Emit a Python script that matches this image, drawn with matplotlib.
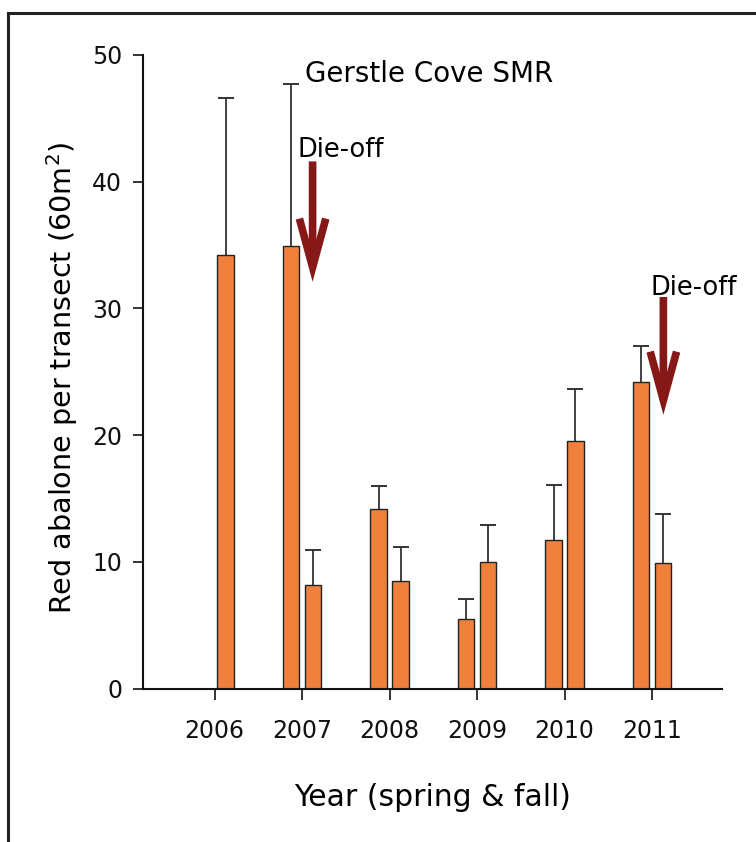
import numpy as np
import matplotlib
matplotlib.use("Agg")
import matplotlib.pyplot as plt
from matplotlib.lines import Line2D

years = ["2006", "2007", "2008", "2009", "2010", "2011"]
spring = [np.nan, 34.9, 14.15, 5.5, 11.7, 24.2]
spring_err_top = [np.nan, 47.7, 16.0, 7.1, 16.1, 27.05]
fall = [34.2, 8.2, 8.5, 10.0, 19.5, 9.9]
fall_err_top = [46.6, 10.9, 11.2, 12.9, 23.6, 13.8]
yticks = [0, 10, 20, 30, 40, 50]

plt.rcParams['font.family'] = ['DejaVu Sans']

fig = plt.figure(figsize=(7.56, 8.42), dpi=100)
ax = fig.add_axes([0.189, 0.1823, 0.766, 0.7524])

x = np.arange(len(years))
off = 0.125
w = 0.19
bar_color = '#F0813C'
err_color = '#333333'
spring = np.array(spring)
fall = np.array(fall)
s_top = np.array(spring_err_top)
f_top = np.array(fall_err_top)

ax.bar(x - off, spring, width=w, color=bar_color, edgecolor='#222222', linewidth=1.0, zorder=2)
ax.bar(x + off, fall, width=w, color=bar_color, edgecolor='#222222', linewidth=1.0, zorder=2)
for xs, vals, tops in [(x - off, spring, s_top), (x + off, fall, f_top)]:
    ax.errorbar(xs, vals, yerr=[np.zeros_like(vals), tops - vals], fmt='none',
                ecolor=err_color, elinewidth=1.3, capsize=0, zorder=1)
    ax.plot(xs, tops, linestyle='none', marker='_', markersize=12,
            markeredgewidth=1.4, color=err_color, zorder=1)

ax.set_xlim(-0.82, 5.80)
ax.set_ylim(0, 50)
ax.set_yticks(yticks)
ax.set_yticklabels([str(v) for v in yticks], fontsize=17)
ax.set_xticks(x)
ax.set_xticklabels(years, fontsize=17)
ax.tick_params(axis='x', direction='out', length=8, width=1.2, pad=14, colors='#111111')
ax.tick_params(axis='y', direction='out', length=7, width=1.2, pad=8, colors='#111111')
for s in ['top', 'right']:
    ax.spines[s].set_visible(False)
for s in ['left', 'bottom']:
    ax.spines[s].set_linewidth(1.5)
    ax.spines[s].set_color('#111111')

ax.set_ylabel('Red abalone per transect (60m$^{2}$)', fontsize=20.6)
ax.yaxis.set_label_coords(-0.109, 0.491)
ax.set_xlabel('Year (spring & fall)', fontsize=21.5, labelpad=29)

ax.text(1.03, 48.5, 'Gerstle Cove SMR', fontsize=20, va='center', ha='left')
ax.text(0.95, 42.5, 'Die-off', fontsize=18.5, va='center', ha='left')
ax.text(4.98, 31.6, 'Die-off', fontsize=18.5, va='center', ha='left')

arrow_color = '#861818'
arrows = [(1.12, 41.6, 32.1), (5.13, 30.9, 21.6)]
for ax_x, y0, y1 in arrows:
    ax.annotate('', xy=(ax_x, y1), xytext=(ax_x, y0),
                arrowprops=dict(arrowstyle='->,head_length=3.5,head_width=0.95',
                                color=arrow_color, lw=5.5, shrinkA=0, shrinkB=0,
                                joinstyle='miter', capstyle='butt'))

# frame lines (top and left) of the figure
fig.add_artist(Line2D([8/756, 8/756], [0, 1 - 13/842], color='#222222', lw=2.2,
                      transform=fig.transFigure))
fig.add_artist(Line2D([8/756, 1], [1 - 13/842, 1 - 13/842], color='#222222', lw=2.2,
                      transform=fig.transFigure))

fig.savefig('out.png', dpi=100)
